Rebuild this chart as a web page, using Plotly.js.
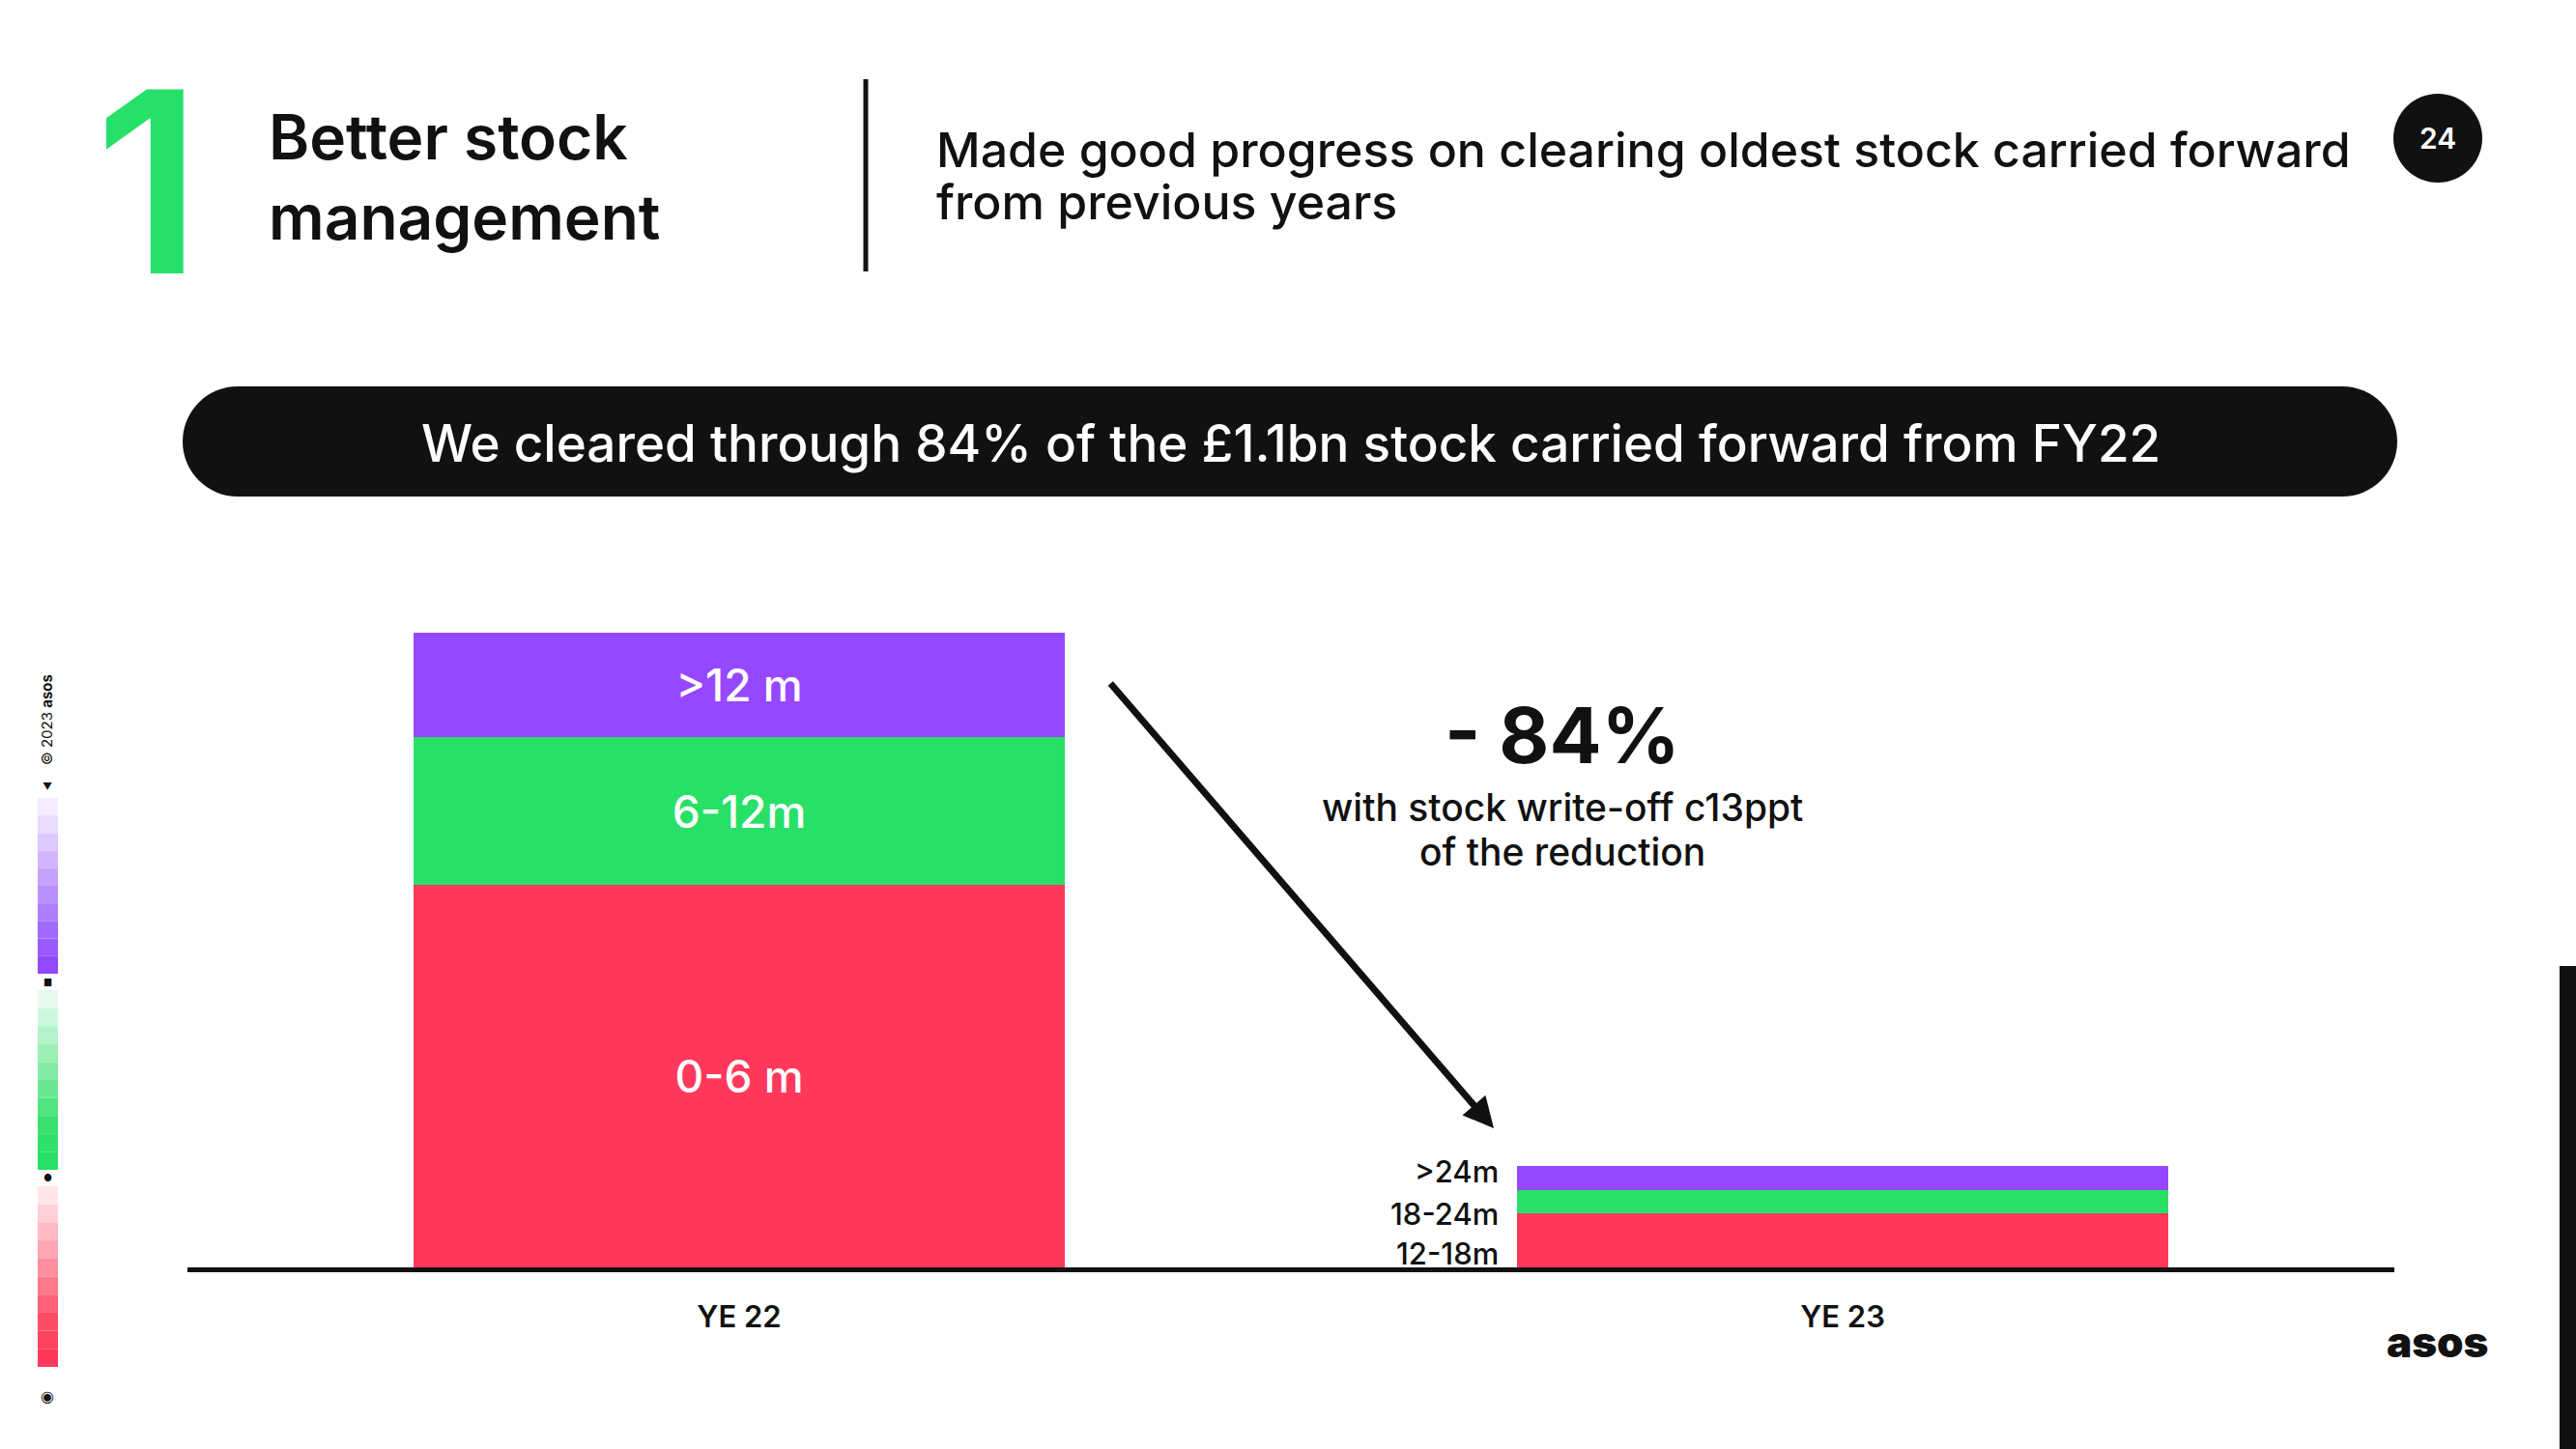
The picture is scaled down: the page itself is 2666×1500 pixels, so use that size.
<!DOCTYPE html>
<html>
<head>
<meta charset="utf-8">
<script src="https://cdn.plot.ly/plotly-3.0.1.min.js"></script>
<style>
  html, body { margin: 0; padding: 0; background: #ffffff; }
  #chart { width: 2666px; height: 1500px; }
</style>
</head>
<body>
<div id="chart"></div>
<script>
// ---- Data (stock carried forward, £m) ----
const categories = ['YE 22', 'YE 23'];
const youngestTier = [663, 93];   // red: 0-6 m (YE22) / 12-18m (YE23)
const middleTier   = [256, 41];   // green: 6-12m (YE22) / 18-24m (YE23)
const oldestTier   = [181, 42];   // purple: >12 m (YE22) / >24m (YE23)
const labelsYE22 = ['0-6 m', '6-12m', '>12 m'];
const labelsYE23 = ['12-18m', '18-24m', '>24m'];

const RED = '#FF385C', GREEN = '#28E068', PURPLE = '#9548FF', INK = '#111111';
const FONT = 'Inter, "Open Sans", sans-serif';
const W = 2666, H = 1500;
const px = x => x / W;
const py = y => 1 - y / H;

function barTrace(values, color, name, labelIdx) {
  return {
    type: 'bar', x: categories, y: values, name: name,
    marker: { color: color, line: { width: 0 } },
    width: 0.59,
    text: [labelsYE22[labelIdx], ''],
    textposition: 'inside', insidetextanchor: 'middle', textangle: 0,
    constraintext: 'none',
    textfont: { color: '#ffffff', size: 46, family: FONT, weight: 500 },
    hoverinfo: 'skip'
  };
}

const traces = [
  barTrace(youngestTier, RED, 'Youngest tier', 0),
  barTrace(middleTier, GREEN, 'Middle tier', 1),
  barTrace(oldestTier, PURPLE, 'Oldest tier', 2)
];

const shapes = [];
const annotations = [];

// Header vertical divider
shapes.push({ type: 'line', xref: 'paper', yref: 'paper', x0: px(896), x1: px(896), y0: py(82), y1: py(281), line: { color: INK, width: 5 } });
// Page number circle
shapes.push({ type: 'circle', xref: 'paper', yref: 'paper', x0: px(2477), x1: px(2569), y0: py(189), y1: py(97), fillcolor: INK, line: { width: 0 } });
// Banner pill
shapes.push({ type: 'rect', xref: 'paper', yref: 'paper', x0: px(246), x1: px(2424), y0: py(514), y1: py(400), fillcolor: INK, line: { width: 0 } });
shapes.push({ type: 'circle', xref: 'paper', yref: 'paper', x0: px(189), x1: px(303), y0: py(514), y1: py(400), fillcolor: INK, line: { width: 0 } });
shapes.push({ type: 'circle', xref: 'paper', yref: 'paper', x0: px(2367), x1: px(2481), y0: py(514), y1: py(400), fillcolor: INK, line: { width: 0 } });
// Right edge black bar
shapes.push({ type: 'rect', xref: 'paper', yref: 'paper', x0: px(2649), x1: px(2666), y0: py(1500), y1: py(1000), fillcolor: INK, line: { width: 0 } });

// Left decorative colour strips
const stripTints = {
  purple: ['#F4EDFF','#E9DBFF','#DDC9FF','#D1B6FF','#C5A3FF','#B991FF','#AD7EFF','#A16BFF','#9B5AFF','#9548FF'],
  green:  ['#E6FBEE','#CDF7DB','#B4F3C9','#9BEFB7','#82EBA4','#6AE792','#51E47F','#38E06D','#2FE06A','#28E068'],
  red:    ['#FFE6EB','#FFD0D8','#FFBAC5','#FFA4B2','#FF8E9F','#FF788C','#FF6279','#FF4C66','#FF4260','#FF385C']
};
function strip(tints, top, bottom) {
  const h = (bottom - top) / tints.length;
  tints.forEach((c, i) => {
    shapes.push({ type: 'rect', xref: 'paper', yref: 'paper', x0: px(39), x1: px(60),
      y0: py(top + (i + 1) * h), y1: py(top + i * h), fillcolor: c, line: { width: 0 } });
  });
}
strip(stripTints.purple, 826, 1008);
strip(stripTints.green, 1025, 1211);
strip(stripTints.red, 1228, 1415);

function note(text, x, y, size, opts) {
  annotations.push(Object.assign({
    xref: 'paper', yref: 'paper', x: px(x), y: py(y), text: text, showarrow: false,
    xanchor: 'center', yanchor: 'middle',
    font: { family: FONT, size: size, color: INK }
  }, opts || {}));
}

// Header
note('1', 153, 188, 262, { font: { family: FONT, size: 262, color: '#27E06A', weight: 600 } });
note('Better stock<br>management', 276, 183, 64, { xanchor: 'left', align: 'left', font: { family: FONT, size: 64, color: INK, weight: 600 } });
note('Made good progress on clearing oldest stock carried forward', 967, 155, 50, { xanchor: 'left', font: { family: FONT, size: 50, color: INK, weight: 500 } });
note('from previous years', 967, 209, 50, { xanchor: 'left', font: { family: FONT, size: 50, color: INK, weight: 500 } });
note('24', 2523, 143, 30, { font: { family: FONT, size: 30, color: '#ffffff', weight: 600 } });

// Banner text
note('We cleared through 84% of the £1.1bn stock carried forward from FY22', 1336, 459, 53, { font: { family: FONT, size: 53, color: '#ffffff', weight: 500 } });

// Change annotation
note('- 84%', 1617, 760, 80, { font: { family: FONT, size: 80, color: INK, weight: 700 } });
note('with stock write-off c13ppt', 1617, 835, 39, { font: { family: FONT, size: 39, color: INK, weight: 500 } });
note('of the reduction', 1617, 881, 39, { font: { family: FONT, size: 39, color: INK, weight: 500 } });

// Arrow
annotations.push({
  xref: 'paper', yref: 'paper', x: px(1546), y: py(1168), ax: 1148 - 1546, ay: 706 - 1168,
  text: '', showarrow: true, arrowhead: 2, arrowsize: 0.9, arrowwidth: 7, arrowcolor: INK, standoff: 0, startstandoff: 0
});

// YE23 segment labels (left of the bar)
note(labelsYE23[2], 1553, 1212, 31, { xanchor: 'right', font: { family: FONT, size: 31, color: INK, weight: 500 } });
note(labelsYE23[1], 1553, 1256, 31, { xanchor: 'right', font: { family: FONT, size: 31, color: INK, weight: 500 } });
note(labelsYE23[0], 1553, 1297, 31, { xanchor: 'right', font: { family: FONT, size: 31, color: INK, weight: 500 } });

// Left strip small marks and copyright
note('© 2023 <b>asos</b>', 49, 745, 15, { textangle: -90, font: { family: FONT, size: 15, color: INK } });
note('▼', 49, 814, 10);
note('■', 49, 1017, 10);
note('●', 49, 1219, 10);
note('◉', 49, 1445, 16);

// asos logo
note('asos', 2523, 1389, 44, { font: { family: FONT, size: 44, color: INK, weight: 900 } });

const layout = {
  width: W, height: H,
  margin: { l: 0, r: 0, t: 0, b: 0, pad: 0 },
  paper_bgcolor: '#ffffff', plot_bgcolor: '#ffffff',
  showlegend: false,
  barmode: 'stack',
  font: { family: FONT, color: INK },
  xaxis: {
    domain: [px(194), px(2478)],
    type: 'category', range: [-0.5, 1.5],
    showgrid: false, zeroline: false,
    showline: true, linecolor: INK, linewidth: 5,
    ticks: '', ticklabelstandoff: 20,
    tickfont: { family: FONT, size: 31, color: INK, weight: 600 },
    fixedrange: true
  },
  yaxis: {
    domain: [1 - 1312 / H, 1 - 655 / H],
    range: [0, 1100],
    visible: false, showgrid: false, zeroline: false, fixedrange: true
  },
  shapes: shapes,
  annotations: annotations
};

Plotly.newPlot('chart', traces, layout, { displayModeBar: false, staticPlot: true });
</script>
</body>
</html>
